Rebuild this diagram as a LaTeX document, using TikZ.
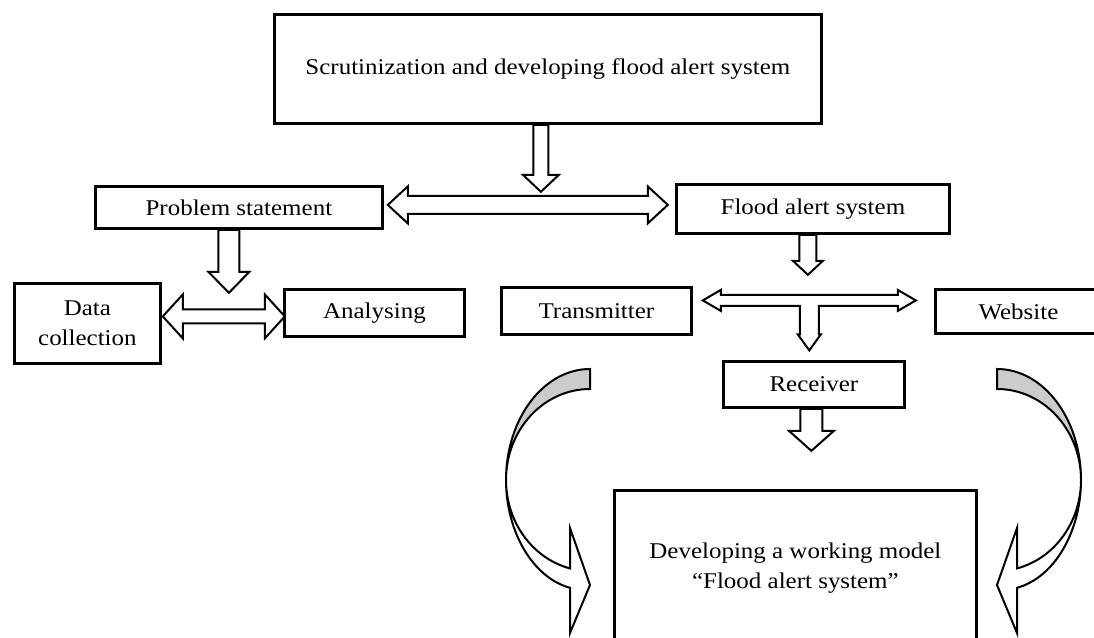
\documentclass[tikz,border=0pt]{standalone}
\usepackage{fontspec}
\setmainfont{Liberation Serif}[FakeStretch=1.11]
\usetikzlibrary{calc}
\tikzset{
  box/.style={draw=black, line width=2.8pt, fill=white, inner sep=0pt, anchor=north west,
    align=center, font=\fontsize{22.5}{30}\selectfont},
  blk/.style={draw=black, line width=2pt, fill=white, line join=miter},
  curvback/.style={draw=black, line width=2pt, fill=black!20},
  curvfront/.style={draw=black, line width=2pt, fill=white, line join=miter},
}
% single block arrow: #1 start, #2 rotation, #3 length, #4 shaft half width, #5 head half width, #6 head length
\newcommand\sblk[6]{\draw[blk,shift={#1},rotate=#2] (0,-#4) -- (#3-#6,-#4) -- (#3-#6,-#5) -- (#3,0) -- (#3-#6,#5) -- (#3-#6,#4) -- (0,#4) -- cycle;}
% double block arrow
\newcommand\dblk[6]{\draw[blk,shift={#1},rotate=#2] (0,0) -- (#6,-#5) -- (#6,-#4) -- (#3-#6,-#4) -- (#3-#6,-#5) -- (#3,0) -- (#3-#6,#5) -- (#3-#6,#4) -- (#6,#4) -- (#6,#5) -- cycle;}
\begin{document}
\begin{tikzpicture}[x=1pt,y=-1pt]
\useasboundingbox[fill=white] (0,0) rectangle (1094,637);

% boxes
\node[box, minimum width=547pt, minimum height=109pt] (top) at (273,13) {Scrutinization and developing flood alert system};
\node[box, minimum width=287pt, minimum height=42pt] (ps) at (94,185) {Problem statement};
\node[box, minimum width=273pt, minimum height=49pt] (fas) at (675,183) {Flood alert system};
\node[box, minimum width=146pt, minimum height=80pt] (dc) at (13,282) {Data\\collection};
\node[box, minimum width=180pt, minimum height=47pt] (an) at (283,288) {Analysing};
\node[box, minimum width=190pt, minimum height=47pt] (tr) at (500,286) {Transmitter};
\node[box, minimum width=166pt, minimum height=44pt] (web) at (934,288) {Website};
\node[box, minimum width=181pt, minimum height=46pt] (rc) at (722,360) {Receiver};
\node[box, minimum width=362pt, minimum height=156pt] (dev) at (613,489) {Developing a working model\\“Flood alert system”};

% block arrows
\sblk{($(top.south)+(-7,0)$)}{-90}{67}{7.5}{18}{17}
\dblk{($(ps.east)+(4,-2.5)$)}{0}{280}{9}{18.5}{20}
\sblk{($(ps.south)+(-10,0)$)}{-90}{63}{10.5}{20.5}{21}
\dblk{($(dc.east)+(1,-7)$)}{0}{122}{7}{22}{20}
\sblk{($(fas.south)+(-5,0)$)}{-90}{40}{8.5}{15}{14}
\draw[blk, shift={($(tr.east)+(10,-10.5)$)}] (0,0) -- (18,-10.5) -- (18,-5.5) -- (195,-5.5) -- (195,-10.5) -- (213,0) -- (195,10.5) -- (195,5.5) -- (116,5.5) -- (116,34) -- (118,34) -- (106.5,50) -- (95,34) -- (97,34) -- (97,5.5) -- (18,5.5) -- (18,10.5) -- cycle;
\sblk{($(rc.south)+(-2.5,0)$)}{-90}{42}{11}{22.5}{20}

% curved arrows (left, then mirrored right)
\foreach \xs/\xsh in {1/0, -1/1587}{
\begin{scope}[xshift=\xsh pt, xscale=\xs]
\draw[curvfront] (506,480) .. controls (506,531.1) and (532.4,577.5) .. (570,587.8) -- (570,633) -- (590,585) -- (570,528) -- (570,568.4) .. controls (532.4,558.4) and (506,521.9) .. (506,480) -- cycle;
\draw[curvback] (590,369) .. controls (543.6,369) and (506,418.7) .. (506,480) .. controls (506,429.7) and (543.6,389) .. (590,389) -- cycle;
\end{scope}
}
\end{tikzpicture}
\end{document}
